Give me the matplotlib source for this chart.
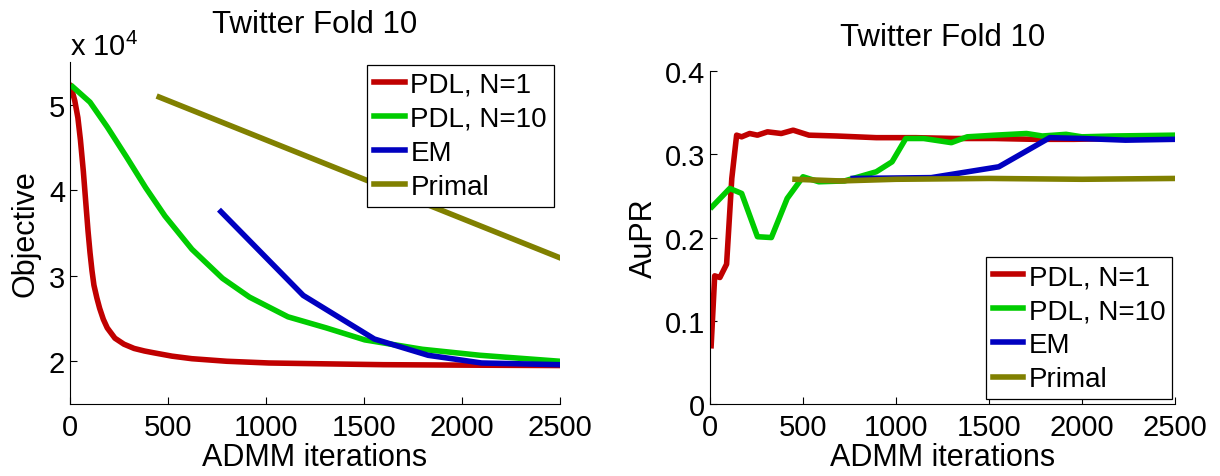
import numpy as np
import matplotlib
matplotlib.use("Agg")
from matplotlib import pyplot as plt

plt.rcParams['font.family'] = ['Liberation Sans', 'DejaVu Sans']
plt.rcParams['mathtext.fontset'] = 'custom'
plt.rcParams['mathtext.rm'] = 'Liberation Sans'
plt.rcParams['font.size'] = 21

labels = ["PDL, N=1", "PDL, N=10", "EM", "Primal"]
colors = ["#c00000", "#00cc00", "#0000c0", "#808000"]

# objective (x 1e4) vs ADMM iterations
obj_pdl1_x = [0, 12, 24, 40, 53, 68, 82, 92, 102, 112, 122, 137, 151, 170, 190, 229, 275, 327, 380, 425, 520, 622, 800, 1014, 1300, 1600, 2000, 2500]
obj_pdl1_y = [5.22, 5.15, 5.05, 4.85, 4.59, 4.22, 3.81, 3.52, 3.27, 3.06, 2.89, 2.74, 2.62, 2.49, 2.39, 2.27, 2.20, 2.15, 2.12, 2.10, 2.06, 2.03, 2.00, 1.98, 1.97, 1.96, 1.955, 1.95]
obj_pdl10_x = [14, 102, 190, 288, 386, 484, 622, 778, 916, 1112, 1308, 1504, 1798, 2092, 2500]
obj_pdl10_y = [5.21, 5.03, 4.74, 4.39, 4.03, 3.70, 3.31, 2.97, 2.75, 2.52, 2.39, 2.25, 2.14, 2.07, 2.00]
obj_em_x = [770, 1190, 1553, 1827, 2100, 2500]
obj_em_y = [3.75, 2.77, 2.26, 2.07, 1.98, 1.96]
obj_primal_x = [455, 2500]
obj_primal_y = [5.09, 3.21]

# AuPR vs ADMM iterations
aupr_pdl1_x = [6, 25, 53, 89, 117, 143, 170, 213, 255, 309, 383, 447, 532, 681, 894, 1106, 1319, 1532, 1745, 1957, 2170, 2500]
aupr_pdl1_y = [0.070, 0.154, 0.152, 0.168, 0.271, 0.323, 0.321, 0.325, 0.323, 0.327, 0.325, 0.329, 0.323, 0.322, 0.320, 0.320, 0.319, 0.319, 0.318, 0.318, 0.319, 0.322]
aupr_pdl10_x = [11, 106, 170, 255, 330, 415, 500, 585, 723, 894, 979, 1053, 1149, 1298, 1383, 1532, 1702, 1787, 1915, 2000, 2170, 2500]
aupr_pdl10_y = [0.237, 0.259, 0.253, 0.201, 0.200, 0.247, 0.273, 0.267, 0.268, 0.279, 0.291, 0.319, 0.319, 0.314, 0.321, 0.323, 0.325, 0.322, 0.324, 0.321, 0.322, 0.323]
aupr_em_x = [770, 1190, 1553, 1827, 2000, 2234, 2500]
aupr_em_y = [0.271, 0.272, 0.285, 0.320, 0.319, 0.317, 0.318]
aupr_primal_x = [457, 700, 1000, 1500, 2000, 2500]
aupr_primal_y = [0.270, 0.268, 0.270, 0.271, 0.270, 0.271]

fig = plt.figure(figsize=(12.2, 4.77), dpi=100)
ax1 = fig.add_axes([0.0574, 0.1509, 0.4016, 0.717])
ax2 = fig.add_axes([0.582, 0.1509, 0.381, 0.698])

lw = 4
ax1.plot(obj_pdl1_x, obj_pdl1_y, color=colors[0], lw=lw, label=labels[0])
ax1.plot(obj_pdl10_x, obj_pdl10_y, color=colors[1], lw=lw, label=labels[1])
ax1.plot(obj_em_x, obj_em_y, color=colors[2], lw=lw, label=labels[2])
ax1.plot(obj_primal_x, obj_primal_y, color=colors[3], lw=lw, label=labels[3])

ax2.plot(aupr_pdl1_x, aupr_pdl1_y, color=colors[0], lw=lw, label=labels[0])
ax2.plot(aupr_pdl10_x, aupr_pdl10_y, color=colors[1], lw=lw, label=labels[1])
ax2.plot(aupr_em_x, aupr_em_y, color=colors[2], lw=lw, label=labels[2])
ax2.plot(aupr_primal_x, aupr_primal_y, color=colors[3], lw=lw, label=labels[3])

ax1.set_xlim(0, 2500)
ax1.set_ylim(1.5, 5.5)
ax1.set_yticks([2, 3, 4, 5])
ax1.set_yticklabels(["2", "3", "4", "5"])
ax1.set_ylabel("Objective", labelpad=6, fontsize=22)
ax1.text(0.0, 1.0205, r"x 10$^4$", transform=ax1.transAxes, ha="left", va="baseline", fontsize=21)
ax1.set_title("Twitter Fold 10", pad=21.6, fontsize=22.5)

ax2.set_xlim(0, 2500)
ax2.set_ylim(0, 0.4)
ax2.set_yticks([0, 0.1, 0.2, 0.3, 0.4])
ax2.set_yticklabels(["0", "0.1", "0.2", "0.3", "0.4"])
ax2.set_ylabel("AuPR", labelpad=4, fontsize=22)
ax2.set_title("Twitter Fold 10", pad=19, fontsize=22.5)

for ax in (ax1, ax2):
    ax.set_xticks([0, 500, 1000, 1500, 2000, 2500])
    ax.set_xticklabels(["0", "500", "1000", "1500", "2000", "2500"])
    ax.set_xlabel("ADMM iterations", labelpad=1, fontsize=22)
    ax.spines['top'].set_visible(False)
    ax.spines['right'].set_visible(False)
    ax.tick_params(direction='in', length=5, width=0.8)
    ax.tick_params(axis='x', pad=6.5)
    ax.tick_params(axis='y', pad=3.5)

leg_kw = dict(frameon=True, fancybox=False, edgecolor="black", framealpha=1, fontsize=20,
              handlelength=1.1, handletextpad=0.2, labelspacing=0.29, borderpad=0.25,
              borderaxespad=0)
l1 = ax1.legend(loc="upper right", bbox_to_anchor=(0.454, 0.862), bbox_transform=fig.transFigure, **leg_kw)
l2 = ax2.legend(loc="lower right", bbox_to_anchor=(0.961, 0.161), bbox_transform=fig.transFigure, **leg_kw)
for l in (l1, l2):
    l.get_frame().set_linewidth(0.9)

fig.savefig("out.png", dpi=100)
